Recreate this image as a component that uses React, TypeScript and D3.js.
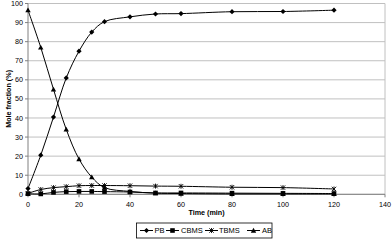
import React from "react";
import * as d3 from "d3";

const times = [0, 5, 10, 15, 20, 25, 30, 40, 50, 60, 80, 100, 120];
const pb = [3, 20.5, 40.5, 61, 75, 85, 90.5, 93, 94.5, 94.7, 95.7, 95.8, 96.5];
const cbms = [0.3, 0.2, 1, 1.4, 1.5, 1.5, 1.4, 1.2, 0.7, 0.7, 0.6, 0.5, 0.4];
const tbms = [0.5, 2.5, 3.5, 4, 4.5, 4.6, 4.6, 4.5, 4.3, 4.2, 3.7, 3.5, 2.8];
const ab = [96.5, 77, 55, 34, 18.5, 9, 3.5, 1.5, 0.6, 0.4, 0.2, 0.2, 0.2];
const xTicks = [0, 20, 40, 60, 80, 100, 120, 140];
const yTicks = [0, 10, 20, 30, 40, 50, 60, 70, 80, 90, 100];
const seriesNames = ["PB", "CBMS", "TBMS", "AB"];

const W = 392, H = 240;
const L = 28, R = 385, T = 3.5, B = 194.3;
const font = "'Liberation Sans', Arial, sans-serif";

function Marker({ kind, x, y }: { kind: string; x: number; y: number }) {
  if (kind === "PB") {
    const s = 2.6;
    return <path d={`M${x},${y - s}L${x + s},${y}L${x},${y + s}L${x - s},${y}Z`} fill="#000" />;
  }
  if (kind === "CBMS") {
    const s = 2.3;
    return <rect x={x - s} y={y - s} width={2 * s} height={2 * s} fill="#000" />;
  }
  if (kind === "TBMS") {
    const s = 2.2;
    return (
      <path
        d={`M${x - s},${y - s}L${x + s},${y + s}M${x + s},${y - s}L${x - s},${y + s}M${x},${y - s - 0.3}L${x},${y + s + 0.3}`}
        stroke="#000"
        strokeWidth={0.9}
        fill="none"
      />
    );
  }
  const s = 2.7;
  return <path d={`M${x},${y - s}L${x + s},${y + s * 0.8}L${x - s},${y + s * 0.8}Z`} fill="#000" />;
}

export default function App() {
  const x = d3.scaleLinear().domain([0, 140]).range([L, R]);
  const y = d3.scaleLinear().domain([0, 100]).range([B, T]);
  const allSeries = [pb, cbms, tbms, ab];
  const line = d3
    .line<[number, number]>()
    .x((d) => x(d[0]))
    .y((d) => y(d[1]))
    .curve(d3.curveCatmullRom.alpha(0.5));

  const legendItems = [
    { name: "PB", lx: 140, tx: 154.5 },
    { name: "CBMS", lx: 166, tx: 181 },
    { name: "TBMS", lx: 205, tx: 219 },
    { name: "AB", lx: 247, tx: 262 },
  ];
  const legY = 230.5;

  return (
    <svg width={W} height={H} style={{ position: "absolute", left: 0, top: 0, background: "#fff" }}>
      <rect x={0} y={0} width={W} height={H} fill="#fff" />
      {yTicks.map((t) => (
        <line key={t} x1={L} x2={R} y1={y(t)} y2={y(t)} stroke="#c0c0c0" strokeWidth={1} />
      ))}
      <line x1={R} x2={R} y1={T} y2={B} stroke="#c0c0c0" strokeWidth={1} />
      <line x1={L} x2={L} y1={T} y2={B} stroke="#808080" strokeWidth={1} />
      <line x1={L} x2={R} y1={B} y2={B} stroke="#808080" strokeWidth={1} />
      {yTicks.map((t) => (
        <g key={"y" + t}>
          <line x1={L - 3} x2={L} y1={y(t)} y2={y(t)} stroke="#808080" />
          <text x={L - 5} y={y(t)} dy="0.35em" textAnchor="end" fontSize={7.2} fontFamily={font} fill="#000">
            {t}
          </text>
        </g>
      ))}
      {xTicks.map((t) => (
        <g key={"x" + t}>
          <line x1={x(t)} x2={x(t)} y1={B} y2={B + 3} stroke="#808080" />
          <text x={x(t)} y={B + 10} dy="0.35em" textAnchor="middle" fontSize={7.2} fontFamily={font} fill="#000">
            {t}
          </text>
        </g>
      ))}
      <text x={206.5} y={212} dy="0.35em" textAnchor="middle" fontSize={7.2} fontWeight="bold" fontFamily={font}>
        Time (min)
      </text>
      <text
        transform={`translate(8,${(T + B) / 2}) rotate(-90)`}
        dy="0.35em"
        textAnchor="middle"
        fontSize={7.2}
        fontWeight="bold"
        fontFamily={font}
      >
        Mole fraction (%)
      </text>
      {allSeries.map((s, i) => {
        const pts = times.map((t, j) => [t, s[j]] as [number, number]);
        return (
          <g key={seriesNames[i]}>
            <path d={line(pts) || ""} fill="none" stroke="#000" strokeWidth={1} />
            {pts.map((p, j) => (
              <Marker key={j} kind={seriesNames[i]} x={x(p[0])} y={y(p[1])} />
            ))}
          </g>
        );
      })}
      <rect x={136.5} y={223} width={135.5} height={15} fill="#fff" stroke="#000" strokeWidth={0.8} />
      {legendItems.map((it) => (
        <g key={it.name}>
          <line x1={it.lx} x2={it.lx + 13} y1={legY} y2={legY} stroke="#000" strokeWidth={1} />
          <Marker kind={it.name} x={it.lx + 6.5} y={legY} />
          <text x={it.tx} y={legY} dy="0.35em" fontSize={7.5} fontFamily={font}>
            {it.name}
          </text>
        </g>
      ))}
    </svg>
  );
}
